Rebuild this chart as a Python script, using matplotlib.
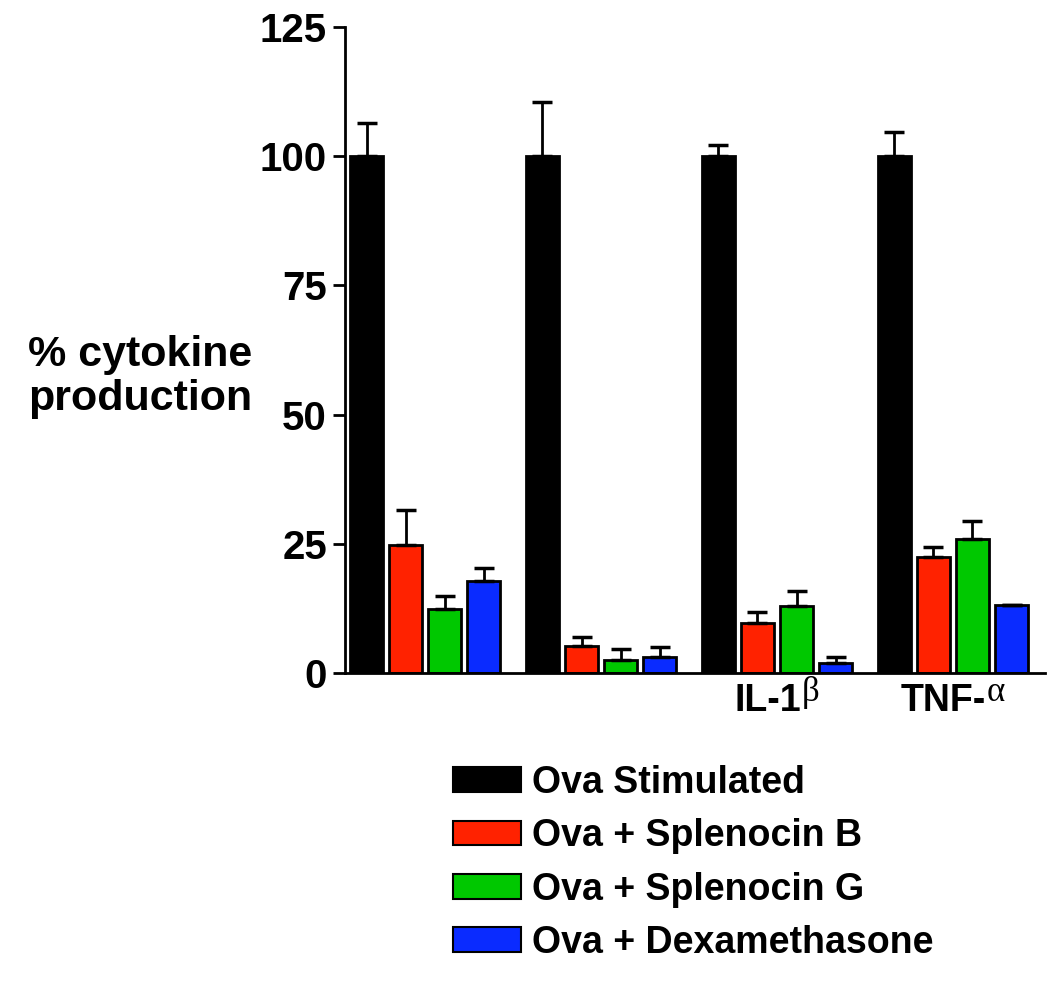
import numpy as np
import matplotlib.pyplot as plt
from matplotlib.patches import Patch
from matplotlib.offsetbox import TextArea, HPacker, VPacker, DrawingArea, AnnotationBbox

plt.rcParams['font.family'] = ['Liberation Sans', 'DejaVu Sans']
plt.rcParams['font.weight'] = 'bold'

# data
groups = ["", "", "IL-1", "TNF-"]
greek = ["", "", "β", "α"]
series = ["Ova Stimulated", "Ova + Splenocin B", "Ova + Splenocin G", "Ova + Dexamethasone"]
colors = ["#000000", "#FF2200", "#00C800", "#0A2BFF"]

ova_stim = [100, 100, 100, 100]
splen_b = [24.8, 5.2, 9.7, 22.5]
splen_g = [12.3, 2.5, 13.0, 26.0]
dexa = [17.9, 3.2, 1.9, 13.2]

ova_stim_err = [6.5, 10.4, 2.1, 4.6]
splen_b_err = [6.8, 1.7, 2.2, 1.8]
splen_g_err = [2.6, 2.1, 2.9, 3.4]
dexa_err = [2.5, 1.8, 1.2, 0.0]

values = [ova_stim, splen_b, splen_g, dexa]
errors = [ova_stim_err, splen_b_err, splen_g_err, dexa_err]

fig = plt.figure(figsize=(10.5, 9.84), dpi=100)
ax = fig.add_axes([0.3286, 0.316, 0.6664, 0.6566])

group_pos = np.arange(len(groups)) * 4.5
width = 0.85
for j, (vals, errs) in enumerate(zip(values, errors)):
    x = group_pos + j
    ax.bar(x, vals, width=width, color=colors[j], edgecolor="black", linewidth=2, zorder=2)
    ax.errorbar(x, vals, yerr=[np.zeros(len(errs)), errs], fmt="none", ecolor="black",
                elinewidth=2, capsize=7, capthick=2.5, zorder=3)

ax.set_ylim(0, 125)
ax.set_xlim(-0.55, group_pos[-1] + 3 + 0.85)
ax.set_yticks([0, 25, 50, 75, 100, 125])
ax.tick_params(axis="y", direction="out", length=9, width=2, labelsize=29, pad=4)
for lab in ax.get_yticklabels():
    lab.set_fontweight("bold")
ax.set_xticks([])

# group labels: bold sans name + raised serif greek letter
for gx, name, gr in zip(group_pos + 1.5, groups, greek):
    if not name:
        continue
    main = TextArea(name, textprops=dict(fontsize=27, fontweight="bold"))
    sup = VPacker(children=[TextArea(gr, textprops=dict(fontsize=25, fontweight="normal",
                                                        family=["Liberation Serif", "DejaVu Serif"])),
                            DrawingArea(1, 7)], align="left", pad=0, sep=0)
    box = HPacker(children=[main, sup], align="bottom", pad=0, sep=1)
    ab = AnnotationBbox(box, (gx, 0), xycoords=("data", "axes fraction"),
                        xybox=(0, -2), boxcoords="offset points", box_alignment=(0.5, 1),
                        frameon=False, pad=0)
    ax.add_artist(ab)

ax.spines["top"].set_visible(False)
ax.spines["right"].set_visible(False)
ax.spines["left"].set_linewidth(2)
ax.spines["bottom"].set_linewidth(2)

fig.text(140 / 1050, 1 - 377 / 984, "% cytokine\nproduction", ha="center", va="center",
         fontsize=31, fontweight="bold", linespacing=1.15)

handles = [Patch(facecolor=c, edgecolor="black", linewidth=1.5) for c in colors]
fig.legend(handles, series, loc="upper left", bbox_to_anchor=(453 / 1050, 1 - 765 / 984),
           frameon=False, handlelength=1.8, handleheight=0.64, borderpad=0, borderaxespad=0,
           labelspacing=0.46, handletextpad=0.3, prop={"weight": "bold", "size": 27})

fig.savefig("out.png", dpi=100)
